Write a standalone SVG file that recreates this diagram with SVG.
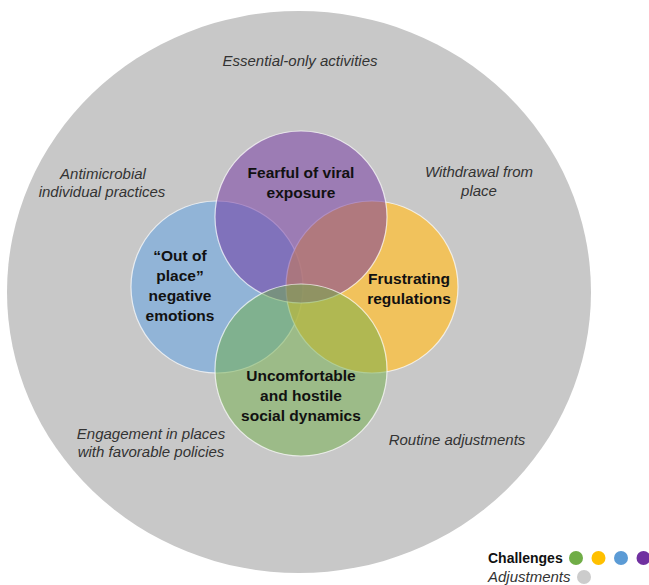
<svg xmlns="http://www.w3.org/2000/svg" width="649" height="585" viewBox="0 0 649 585">
<style>
.it{font-family:"Liberation Sans",Arial,sans-serif;font-style:italic;font-size:15px;fill:#333;text-anchor:middle}
.bd{font-family:"Liberation Sans",Arial,sans-serif;font-weight:bold;font-size:15.5px;fill:#111;text-anchor:middle}
.ch{stroke:#ffffff;stroke-opacity:0.7;stroke-width:1.2;fill-opacity:0.5}
.ch.or{fill-opacity:0.75}
</style>
<rect width="649" height="585" fill="#ffffff"/>
<g id="adjustments">
<ellipse cx="299" cy="292" rx="292" ry="281" fill="#c8c8c8"/>
<text class="it" x="300" y="66">Essential-only activities</text>
<text class="it" x="103" y="179">Antimicrobial</text>
<text class="it" x="102" y="197">individual practices</text>
<text class="it" x="479" y="177">Withdrawal from</text>
<text class="it" x="479" y="196">place</text>
<text class="it" x="151" y="439">Engagement in places</text>
<text class="it" x="151" y="457">with favorable policies</text>
<text class="it" x="457" y="445">Routine adjustments</text>
</g>
<g id="blue">
<circle class="ch" cx="217" cy="287" r="86" fill="#5AA0E6"/>
</g>
<g id="orange">
<circle class="ch or" cx="372" cy="287" r="86" fill="#FFC038"/>
</g>
<g id="purple">
<circle class="ch" cx="301" cy="217" r="86" fill="#7030A0"/>
</g>
<g id="green">
<circle class="ch" cx="301" cy="370" r="86" fill="#70AD47"/>
</g>
<g id="labels">
<text class="bd" x="301" y="178">Fearful of viral</text>
<text class="bd" x="301" y="198">exposure</text>
<text class="bd" x="180" y="261">“Out of</text>
<text class="bd" x="180" y="281">place”</text>
<text class="bd" x="180" y="301">negative</text>
<text class="bd" x="180" y="321">emotions</text>
<text class="bd" x="409" y="284">Frustrating</text>
<text class="bd" x="409" y="304">regulations</text>
<text class="bd" x="301" y="381">Uncomfortable</text>
<text class="bd" x="301" y="401">and hostile</text>
<text class="bd" x="301" y="421">social dynamics</text>
</g>
<g id="legend">
<text x="488" y="563" font-family="Liberation Sans,Arial,sans-serif" font-weight="bold" font-size="14" fill="#111">Challenges</text>
<circle cx="576" cy="558" r="7" fill="#70AD47"/>
<circle cx="598.5" cy="558" r="7" fill="#FFC000"/>
<circle cx="621" cy="558" r="7" fill="#5B9BD5"/>
<circle cx="643.5" cy="558" r="7" fill="#7030A0"/>
<text x="488" y="582" font-family="Liberation Sans,Arial,sans-serif" font-style="italic" font-size="15" fill="#333">Adjustments</text>
<circle cx="584" cy="577" r="7" fill="#cccccc"/>
</g>
</svg>
